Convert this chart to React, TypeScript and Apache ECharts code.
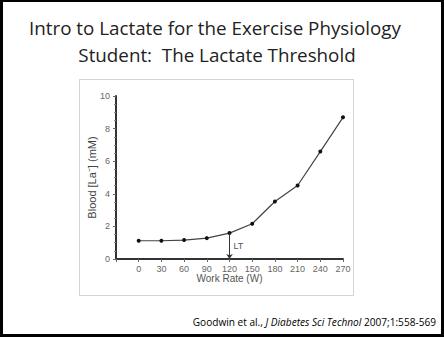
import React, { useEffect, useRef } from "react";
import * as echarts from "echarts";

const workRates = [0, 30, 60, 90, 120, 150, 180, 210, 240, 270];
const lactate = [1.12, 1.12, 1.16, 1.28, 1.59, 2.16, 3.53, 4.51, 6.59, 8.69];
const ltWorkRate = 120;
const ltLactate = 1.59;
const titleLines = ["Intro to Lactate for the Exercise Physiology", "Student:  The Lactate Threshold"];

export default function App() {
  const ref = useRef<HTMLDivElement>(null);
  useEffect(() => {
    document.body.style.margin = "0";
    const chart = echarts.init(ref.current!, null, { renderer: "svg" });
    const axisLabelStyle = { color: "#666", fontSize: 9, fontFamily: "Liberation Sans" };
    chart.setOption({
      animation: false,
      backgroundColor: "#000",
      graphic: [
        {
          type: "rect",
          shape: { x: 3, y: 2, width: 438, height: 332 },
          style: { fill: "#fff" },
          z: -2,
        },
        {
          type: "rect",
          shape: { x: 79.5, y: 79.5, width: 274, height: 216 },
          style: { fill: "none", stroke: "#aaa", lineWidth: 1, lineDash: [1, 1] },
          z: -1,
        },
        {
          type: "text",
          x: 215,
          y: 28,
          style: {
            text: titleLines[0],
            font: '18.8px "Open Sans"',
            fill: "#222",
            textAlign: "center",
            textVerticalAlign: "middle",
          },
        },
        {
          type: "text",
          x: 217,
          y: 55,
          style: {
            text: titleLines[1],
            font: '18.8px "Open Sans"',
            fill: "#222",
            textAlign: "center",
            textVerticalAlign: "middle",
          },
        },
        {
          type: "text",
          x: 436,
          y: 322,
          style: {
            text: "{n|Goodwin et al., }{i|J Diabetes Sci Technol}{n| 2007;1:558-569}",
            rich: {
              n: { fontSize: 10.1, fontFamily: "Open Sans", color: "#222" },
              i: { fontSize: 10.1, fontFamily: "Open Sans", fontStyle: "italic", color: "#222" },
            },
            textAlign: "right",
            textVerticalAlign: "middle",
          },
        },
      ],
      grid: { left: 116, right: 101, top: 96, bottom: 78 },
      xAxis: {
        type: "value",
        min: -30,
        max: 270,
        interval: 30,
        name: "Work Rate (W)",
        nameLocation: "middle",
        nameGap: 14,
        nameMoveOverlap: false,
        nameTextStyle: { color: "#555", fontSize: 10, fontFamily: "Liberation Sans" },
        axisLine: { lineStyle: { color: "#333", width: 2 } },
        axisTick: { show: true, length: 3, lineStyle: { color: "#666" } },
        axisLabel: {
          ...axisLabelStyle,
          margin: 5,
          formatter: (v: number) => (v < 0 ? "" : String(v)),
        },
        splitLine: { show: false },
      },
      yAxis: {
        type: "value",
        min: 0,
        max: 10,
        interval: 2,
        name: "Blood [La\u207B] (mM)",
        nameLocation: "middle",
        nameGap: 19,
        nameMoveOverlap: false,
        nameTextStyle: { color: "#444", fontSize: 11, fontFamily: "Liberation Sans" },
        axisLine: { show: true, onZero: false, lineStyle: { color: "#333", width: 2 } },
        axisTick: { show: true, length: 3, lineStyle: { color: "#666" } },
        minorTick: { show: true, splitNumber: 4, length: 2, lineStyle: { color: "#888" } },
        axisLabel: { ...axisLabelStyle, margin: 6 },
        splitLine: { show: false },
      },
      series: [
        {
          type: "line",
          data: workRates.map((w, i) => [w, lactate[i]]),
          symbol: "circle",
          symbolSize: 4,
          itemStyle: { color: "#111" },
          lineStyle: { color: "#444", width: 1.2 },
          markLine: {
            silent: true,
            symbol: ["none", "arrow"],
            symbolSize: 5,
            lineStyle: { color: "#333", width: 1, type: "solid" },
            label: { show: false },
            data: [[{ coord: [ltWorkRate, ltLactate] }, { coord: [ltWorkRate, 0] }]],
          },
          markPoint: {
            symbol: "circle",
            symbolSize: 0,
            label: {
              show: true,
              position: "right",
              distance: 4,
              formatter: "LT",
              color: "#555",
              fontSize: 9,
              fontFamily: "Liberation Sans",
            },
            data: [{ coord: [ltWorkRate, ltLactate / 2] }],
          },
        },
      ],
    });
    return () => chart.dispose();
  }, []);
  return <div ref={ref} style={{ width: 444, height: 337 }} />;
}
